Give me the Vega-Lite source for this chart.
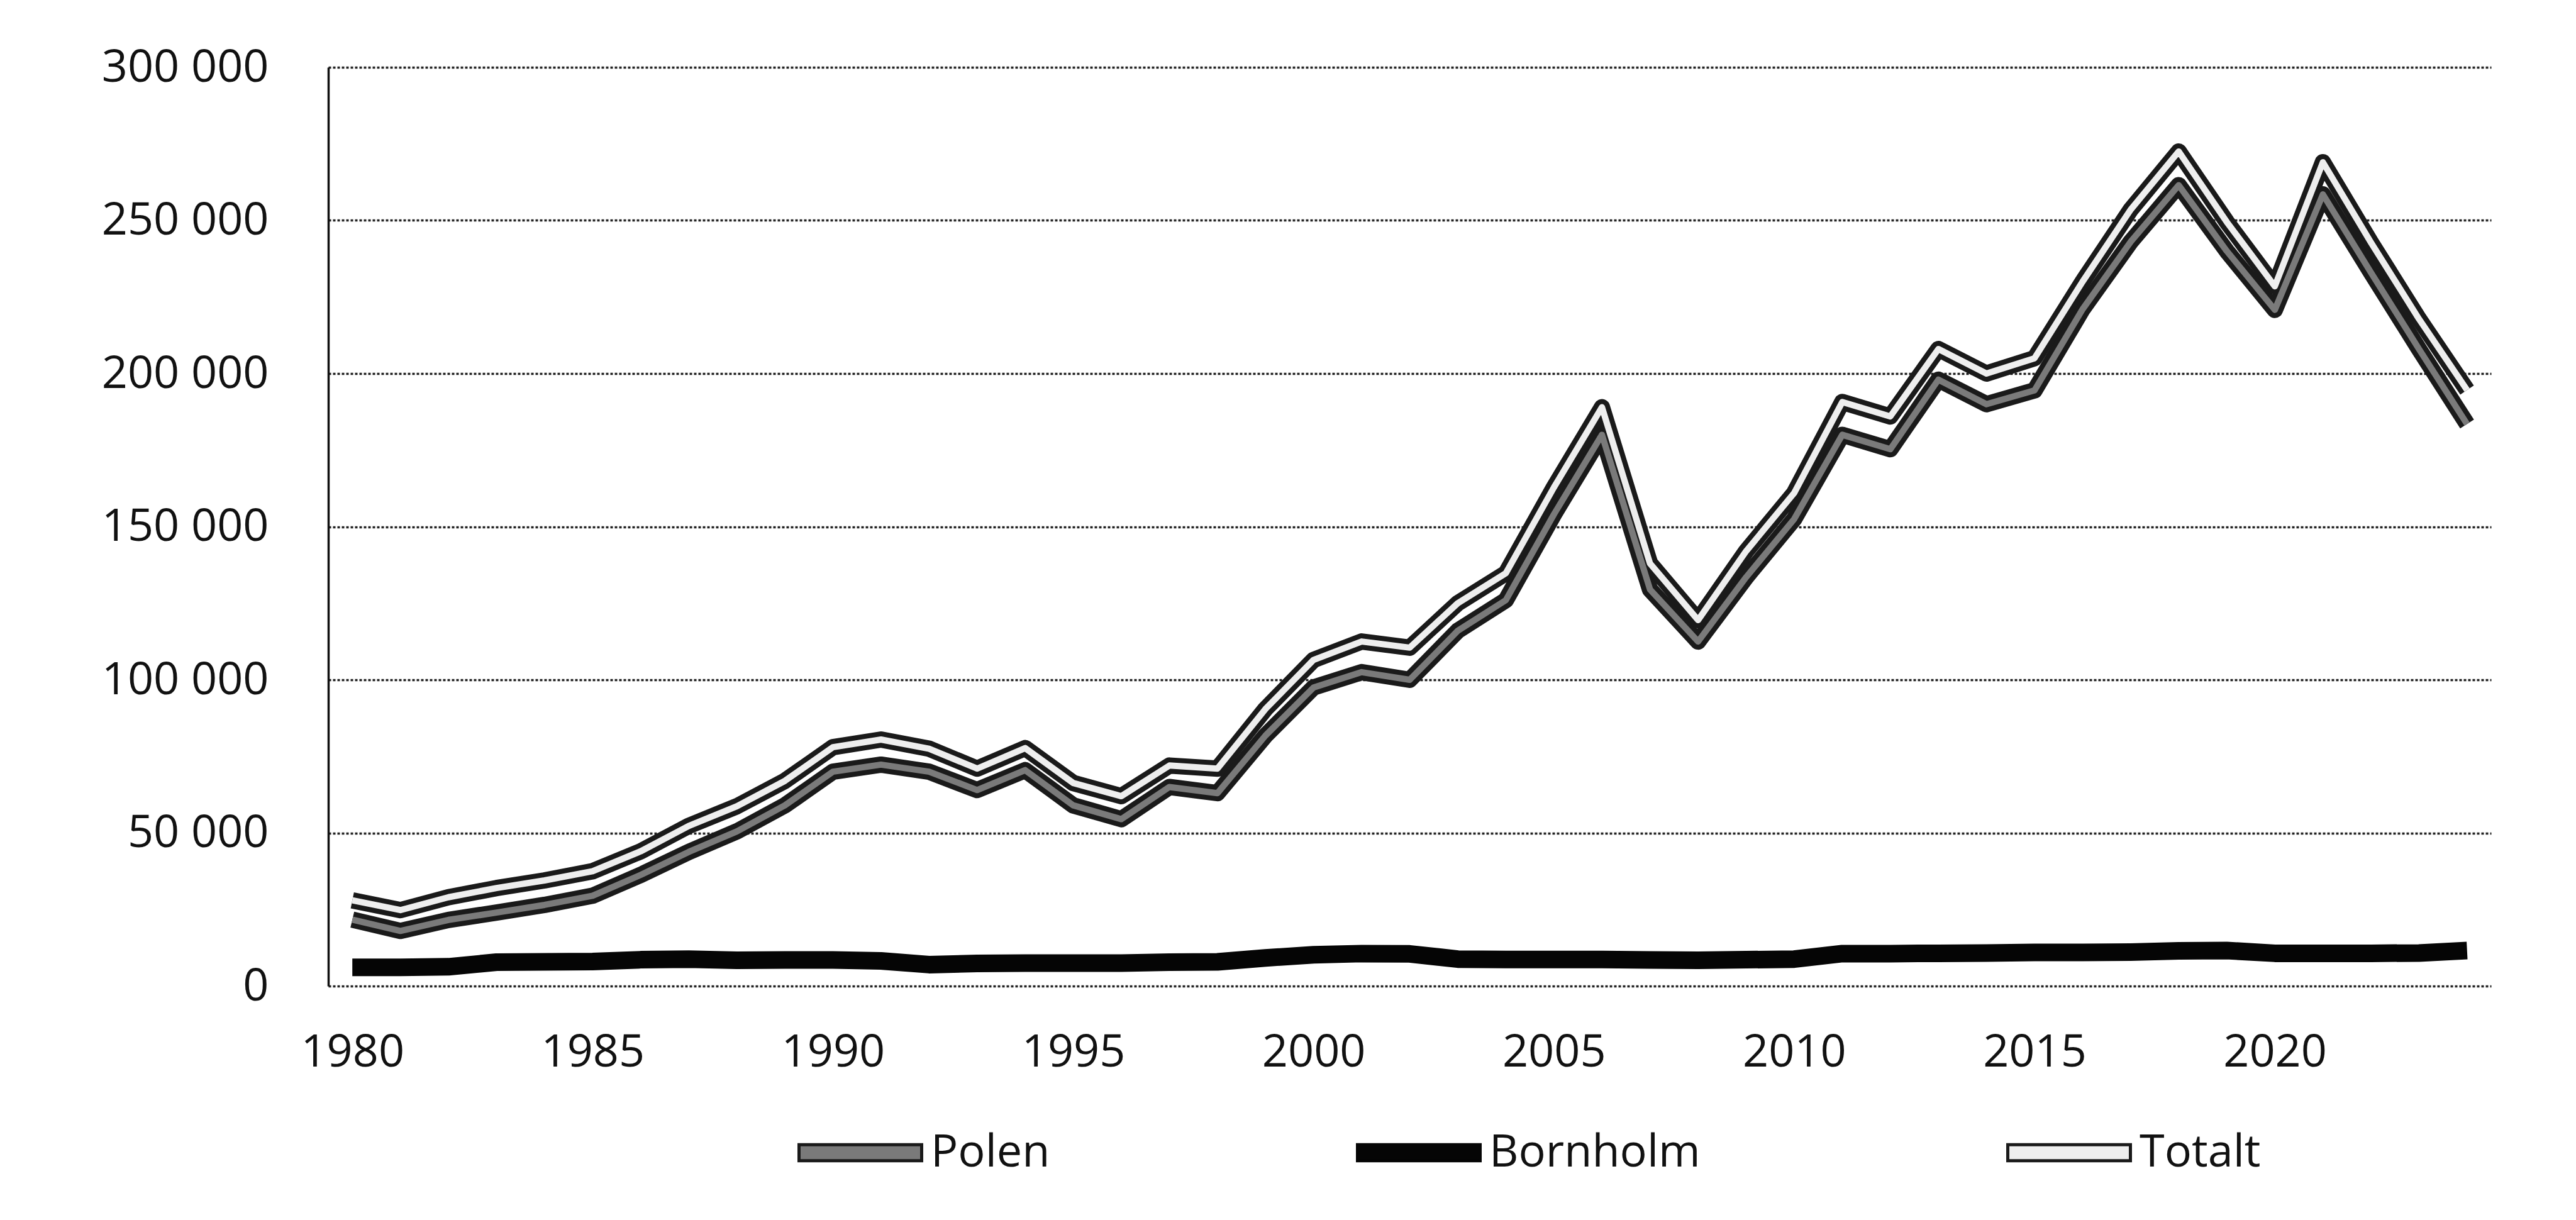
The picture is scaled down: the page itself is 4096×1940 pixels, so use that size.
{
  "$schema": "https://vega.github.io/schema/vega-lite/v6.json",
  "width": 3439,
  "height": 1461,
  "autosize": {"type": "none"},
  "padding": {"left": 522, "top": 107, "right": 135, "bottom": 372},
  "background": "white",
  "config": {"view": {"stroke": null}, "font": "Open Sans"},
  "data": {
    "values": [
      {"year": 1980, "Polen": 21700, "Bornholm": 6100, "Totalt": 28000},
      {"year": 1981, "Polen": 18000, "Bornholm": 6100, "Totalt": 24800},
      {"year": 1982, "Polen": 21600, "Bornholm": 6300, "Totalt": 29000},
      {"year": 1983, "Polen": 24000, "Bornholm": 7800, "Totalt": 32000},
      {"year": 1984, "Polen": 26500, "Bornholm": 7900, "Totalt": 34500},
      {"year": 1985, "Polen": 29500, "Bornholm": 8000, "Totalt": 37500},
      {"year": 1986, "Polen": 36300, "Bornholm": 8600, "Totalt": 44000},
      {"year": 1987, "Polen": 43800, "Bornholm": 8800, "Totalt": 52300},
      {"year": 1988, "Polen": 50500, "Bornholm": 8400, "Totalt": 58700},
      {"year": 1989, "Polen": 59000, "Bornholm": 8500, "Totalt": 67000},
      {"year": 1990, "Polen": 70000, "Bornholm": 8500, "Totalt": 78000},
      {"year": 1991, "Polen": 72300, "Bornholm": 8200, "Totalt": 80500},
      {"year": 1992, "Polen": 70000, "Bornholm": 7000, "Totalt": 77500},
      {"year": 1993, "Polen": 64000, "Bornholm": 7400, "Totalt": 71000},
      {"year": 1994, "Polen": 70500, "Bornholm": 7500, "Totalt": 77700},
      {"year": 1995, "Polen": 59000, "Bornholm": 7500, "Totalt": 66300},
      {"year": 1996, "Polen": 54500, "Bornholm": 7500, "Totalt": 62000},
      {"year": 1997, "Polen": 65000, "Bornholm": 7800, "Totalt": 72000},
      {"year": 1998, "Polen": 63000, "Bornholm": 7900, "Totalt": 71000},
      {"year": 1999, "Polen": 81800, "Bornholm": 9200, "Totalt": 90500},
      {"year": 2000, "Polen": 97500, "Bornholm": 10200, "Totalt": 106500},
      {"year": 2001, "Polen": 102500, "Bornholm": 10600, "Totalt": 112500},
      {"year": 2002, "Polen": 100000, "Bornholm": 10500, "Totalt": 110500},
      {"year": 2003, "Polen": 116000, "Bornholm": 8800, "Totalt": 125000},
      {"year": 2004, "Polen": 126000, "Bornholm": 8700, "Totalt": 134800},
      {"year": 2005, "Polen": 154000, "Bornholm": 8700, "Totalt": 162800},
      {"year": 2006, "Polen": 180000, "Bornholm": 8700, "Totalt": 189000},
      {"year": 2007, "Polen": 129500, "Bornholm": 8500, "Totalt": 138000},
      {"year": 2008, "Polen": 112500, "Bornholm": 8400, "Totalt": 119500},
      {"year": 2009, "Polen": 133500, "Bornholm": 8600, "Totalt": 142000},
      {"year": 2010, "Polen": 152500, "Bornholm": 8800, "Totalt": 161000},
      {"year": 2011, "Polen": 180000, "Bornholm": 10600, "Totalt": 190700},
      {"year": 2012, "Polen": 175300, "Bornholm": 10600, "Totalt": 186000},
      {"year": 2013, "Polen": 198000, "Bornholm": 10700, "Totalt": 208000},
      {"year": 2014, "Polen": 190000, "Bornholm": 10800, "Totalt": 200000},
      {"year": 2015, "Polen": 194500, "Bornholm": 11000, "Totalt": 205000},
      {"year": 2016, "Polen": 221000, "Bornholm": 11000, "Totalt": 230000},
      {"year": 2017, "Polen": 243000, "Bornholm": 11100, "Totalt": 253500},
      {"year": 2018, "Polen": 261500, "Bornholm": 11500, "Totalt": 272500},
      {"year": 2019, "Polen": 240000, "Bornholm": 11600, "Totalt": 249500},
      {"year": 2020, "Polen": 220800, "Bornholm": 10700, "Totalt": 228500},
      {"year": 2021, "Polen": 258500, "Bornholm": 10700, "Totalt": 269000},
      {"year": 2022, "Polen": 233000, "Bornholm": 10700, "Totalt": 242800},
      {"year": 2023, "Polen": 208000, "Bornholm": 10800, "Totalt": 217800},
      {"year": 2024, "Polen": 183500, "Bornholm": 11600, "Totalt": 194600}
    ]
  },
  "transform": [{"fold": ["Polen", "Bornholm", "Totalt"], "as": ["series", "value"]}],
  "encoding": {
    "x": {
      "field": "year",
      "type": "quantitative",
      "scale": {"domain": [1979.5, 2024.5], "nice": false, "zero": false},
      "axis": {
        "values": [1980, 1985, 1990, 1995, 2000, 2005, 2010, 2015, 2020],
        "format": "d",
        "domain": false,
        "ticks": false,
        "grid": false,
        "labelFont": "Open Sans",
        "labelFontSize": 72,
        "labelColor": "#111111",
        "labelPadding": 70,
        "labelLimit": 1000,
        "title": null
      }
    },
    "y": {
      "field": "value",
      "type": "quantitative",
      "scale": {"domain": [0, 300000], "nice": false},
      "axis": {
        "values": [0, 50000, 100000, 150000, 200000, 250000, 300000],
        "labelExpr": "replace(format(datum.value, ','), ',', ' ')",
        "domain": true,
        "domainColor": "#111111",
        "domainWidth": 3.5,
        "ticks": false,
        "grid": true,
        "gridColor": "#222222",
        "gridDash": [4, 3],
        "gridWidth": 3.5,
        "labelFont": "Open Sans",
        "labelFontSize": 72,
        "labelColor": "#111111",
        "labelPadding": 95,
        "labelLimit": 1000,
        "title": null
      }
    }
  },
  "layer": [
    {
      "mark": {"type": "line", "strokeJoin": "round", "strokeCap": "butt"},
      "encoding": {
        "stroke": {
          "field": "series",
          "type": "nominal",
          "scale": {"domain": ["Polen", "Bornholm", "Totalt"], "range": ["#1a1a1a", "#050505", "#1a1a1a"]},
          "legend": {
            "orient": "none",
            "legendX": 746,
            "legendY": 1626,
            "direction": "horizontal",
            "columns": 3,
            "title": null,
            "padding": 0,
            "symbolType": "M-1,-0.13L1,-0.13L1,0.13L-1,0.13Z",
            "symbolSize": 38025,
            "symbolStrokeWidth": 4,
            "labelFont": "Open Sans",
            "labelFontSize": 72,
            "labelColor": "#111111",
            "labelOffset": 12,
            "labelLimit": 1000,
            "columnPadding": 478,
            "encode": {
              "symbols": {
                "update": {
                  "fill": [
                    {"test": "datum.value === 'Polen'", "value": "#7a7a7a"},
                    {"test": "datum.value === 'Bornholm'", "value": "#050505"},
                    {"value": "#eeeeee"}
                  ],
                  "stroke": {"value": "#111111"},
                  "strokeWidth": {"value": 5},
                  "opacity": {"value": 1}
                }
              }
            }
          }
        },
        "strokeWidth": {"condition": {"test": "datum.series === 'Bornholm'", "value": 28}, "value": 26}
      }
    },
    {
      "transform": [{"filter": "datum.series !== 'Bornholm'"}],
      "mark": {"type": "line", "strokeJoin": "round", "strokeCap": "butt"},
      "encoding": {
        "detail": {"field": "series", "type": "nominal"},
        "stroke": {"condition": {"test": "datum.series === 'Polen'", "value": "#7a7a7a"}, "value": "#eeeeee"},
        "strokeWidth": {"value": 10}
      }
    }
  ]
}
